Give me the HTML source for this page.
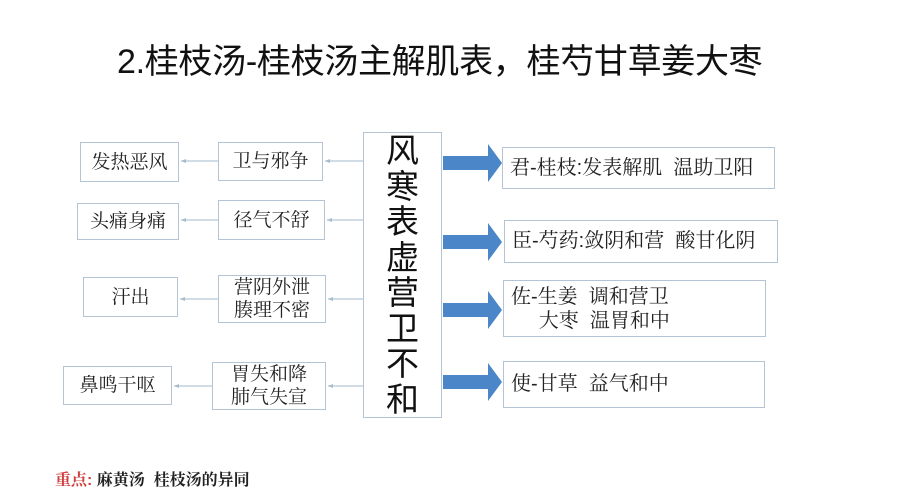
<!DOCTYPE html>
<html><head><meta charset="utf-8"><style>
body{margin:0;width:900px;height:495px;background:#fff;position:relative;overflow:hidden;font-family:"Liberation Sans","Noto Serif CJK SC","Noto Sans CJK SC",serif;}
.b{position:absolute;border:1.5px solid #b4c4d4;box-sizing:border-box;display:flex;align-items:center;justify-content:center;font-size:19px;color:#222;line-height:23px;text-align:center;white-space:nowrap}
.r{justify-content:flex-start;padding-left:7px;text-align:left;font-size:20px}
</style></head><body>
<div style="position:absolute;left:117px;top:34px;font-family:'Liberation Sans','Noto Sans CJK SC',sans-serif;font-size:34px;color:#111;white-space:nowrap;letter-spacing:-0.3px">2.桂枝汤-桂枝汤主解肌表，桂芍甘草姜大枣</div>

<svg width="900" height="495" style="position:absolute;left:0;top:0">
<g stroke="#b4c8d8" stroke-width="1.2" fill="#a8bccc">
<line x1="363" y1="161" x2="325" y2="161"/><line x1="218" y1="161" x2="181" y2="161"/>
<line x1="363" y1="220" x2="327" y2="220"/><line x1="218" y1="220" x2="181" y2="220"/>
<line x1="363" y1="299" x2="328" y2="299"/><line x1="218" y1="299" x2="180" y2="299"/>
<line x1="363" y1="386" x2="328" y2="386"/><line x1="212" y1="386" x2="174" y2="386"/>
<path d="M325 161l5-2v4z M181 161l5-2v4z M327 220l5-2v4z M181 220l5-2v4z M328 299l5-2v4z M180 299l5-2v4z M328 386l5-2v4z M174 386l5-2v4z" stroke="none"/>
</g>
<g fill="#4a86c8">
<path d="M443 156h45v-12l14 19l-14 19v-12h-45z"/>
<path d="M443 235h45v-12l14 19l-14 19v-12h-45z"/>
<path d="M443 303h45v-12l14 19l-14 19v-12h-45z"/>
<path d="M443 375h45v-12l14 19l-14 19v-12h-45z"/>
</g>
</svg>

<div class="b" style="left:80px;top:142px;width:99px;height:40px">发热恶风</div>
<div class="b" style="left:218px;top:142px;width:105px;height:39px">卫与邪争</div>
<div class="b" style="left:77px;top:203px;width:102px;height:37px">头痛身痛</div>
<div class="b" style="left:218px;top:200px;width:107px;height:40px">径气不舒</div>
<div class="b" style="left:83px;top:277px;width:95px;height:40px">汗出</div>
<div class="b" style="left:218px;top:275px;width:108px;height:48px">营阴外泄<br>腠理不密</div>
<div class="b" style="left:63px;top:366px;width:109px;height:39px">鼻鸣干呕</div>
<div class="b" style="left:212px;top:362px;width:114px;height:48px">胃失和降<br>肺气失宣</div>

<div class="b" style="left:363px;top:132px;width:79px;height:286px;font-family:'Liberation Sans','Noto Sans CJK SC',sans-serif;font-size:33px;line-height:35.5px;color:#111">风<br>寒<br>表<br>虚<br>营<br>卫<br>不<br>和</div>

<div class="b r" style="left:502px;top:147px;width:273px;height:42px">君-桂枝:发表解肌&nbsp;&nbsp;温助卫阳</div>
<div class="b r" style="left:504px;top:220px;width:274px;height:43px">臣-芍药:敛阴和营&nbsp;&nbsp;酸甘化阴</div>
<div class="b r" style="left:503px;top:280px;width:263px;height:57px;white-space:pre;line-height:24px">佐-生姜  调和营卫
     大枣  温胃和中</div>
<div class="b r" style="left:503px;top:361px;width:262px;height:47px">使-甘草&nbsp;&nbsp;益气和中</div>

<div style="position:absolute;left:55px;top:467px;font-size:16px;font-weight:bold;color:#222;white-space:nowrap"><span style="color:#d04040">重点:</span> 麻黄汤&nbsp;&nbsp;桂枝汤的异同</div>
</body></html>
